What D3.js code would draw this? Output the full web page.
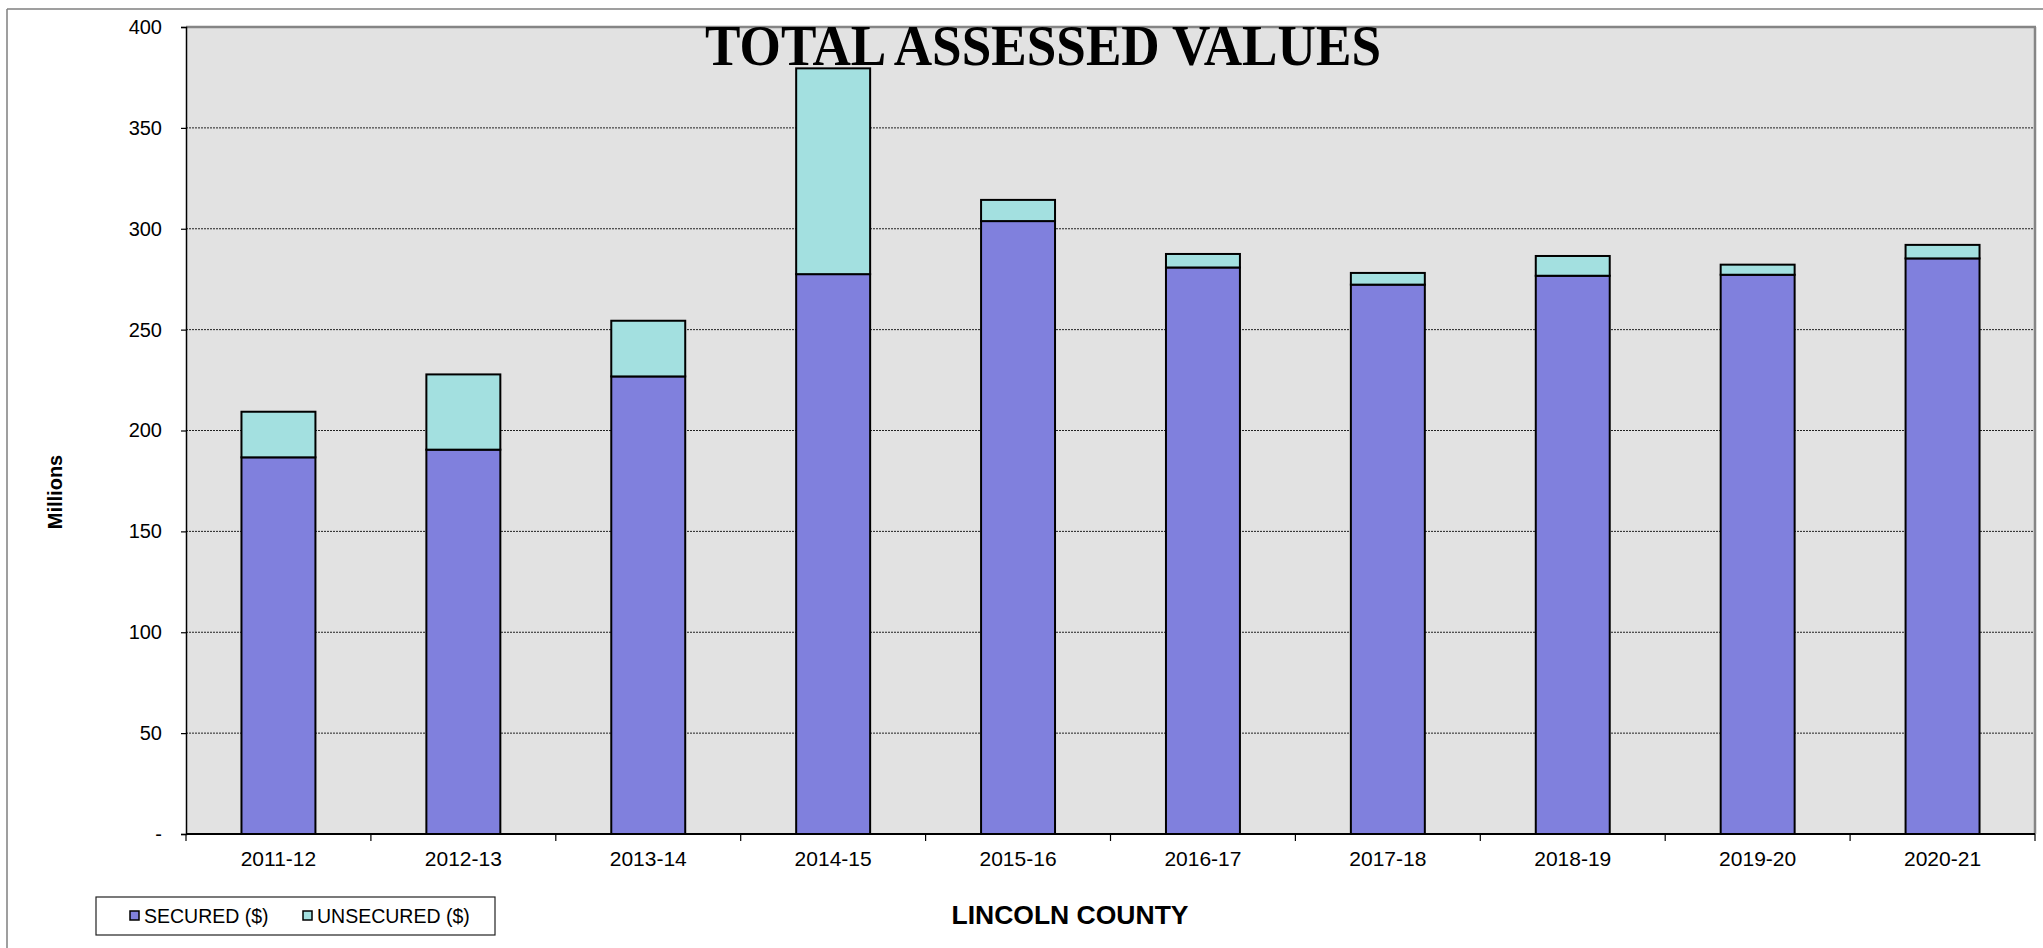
<!DOCTYPE html>
<html><head><meta charset="utf-8">
<script src="https://cdn.jsdelivr.net/npm/d3@7"></script>
<style>html,body{margin:0;padding:0;background:#fff;}svg{display:block;}</style>
</head><body>
<svg id="c" width="2043" height="948"></svg>
<script>
const categories = ["2011-12","2012-13","2013-14","2014-15","2015-16","2016-17","2017-18","2018-19","2019-20","2020-21"];
const secured = [186.7, 190.5, 226.8, 277.5, 303.8, 280.8, 272.3, 276.7, 277.2, 285.3];
const unsecured = [22.6, 37.3, 27.6, 102.0, 10.5, 6.7, 5.8, 9.8, 5.0, 6.7];
const yTicks = [0, 50, 100, 150, 200, 250, 300, 350, 400];
const seriesNames = ["SECURED ($)", "UNSECURED ($)"];
const colors = ["#8080DD", "#A3E0E0"];

const svg = d3.select("#c");
const L = 186, R = 2035, T = 27, B = 834;

// outer frame (only top and left visible)
svg.append("line").attr("x1",7).attr("x2",2043).attr("y1",9).attr("y2",9).attr("stroke","#7f7f7f").attr("stroke-width",1.5);
svg.append("line").attr("x1",7).attr("x2",7).attr("y1",9).attr("y2",948).attr("stroke","#7f7f7f").attr("stroke-width",1.5);

const x = d3.scaleBand().domain(categories).range([L, R]).paddingInner(0.6).paddingOuter(0.3);
const xb = d3.scaleBand().domain(categories).range([L, R]);
const y = d3.scaleLinear().domain([0, 400]).range([B, T]);

svg.append("rect").attr("x",L).attr("y",T).attr("width",R-L).attr("height",B-T).attr("fill","#E2E2E2");

// gridlines
svg.append("g").selectAll("line").data(yTicks.filter(d=>d>0 && d<400)).join("line")
  .attr("x1",L).attr("x2",R).attr("y1",d=>y(d)).attr("y2",d=>y(d))
  .attr("stroke","#222").attr("stroke-width",1).attr("stroke-dasharray","2,1");

// plot border top/right
svg.append("line").attr("x1",L).attr("x2",R+1).attr("y1",T).attr("y2",T).attr("stroke","#858585").attr("stroke-width",2.5);
svg.append("line").attr("x1",R).attr("x2",R).attr("y1",T).attr("y2",B).attr("stroke","#858585").attr("stroke-width",2.5);

// title
svg.append("text").attr("x",1043).attr("y",65).attr("text-anchor","middle")
  .attr("font-family","'Liberation Serif','Times New Roman',serif").attr("font-weight","bold")
  .attr("font-size",56).attr("textLength",676).attr("lengthAdjust","spacingAndGlyphs")
  .text("TOTAL ASSESSED VALUES");

// stacked bars
const stackData = categories.map((c,i)=>({cat:c, s0:secured[i], s1:unsecured[i]}));
const stack = d3.stack().keys(["s0","s1"])(stackData);
svg.append("g").selectAll("g").data(stack).join("g").attr("fill",(d,i)=>colors[i])
  .selectAll("rect").data(d=>d).join("rect")
  .attr("x",d=>x(d.data.cat)).attr("width",x.bandwidth())
  .attr("y",d=>y(d[1])).attr("height",d=>y(d[0])-y(d[1]))
  .attr("stroke","#000").attr("stroke-width",2);

// y axis
const yAxis = d3.axisLeft(y).tickValues(yTicks).tickSize(5).tickPadding(19)
  .tickFormat(d=>d===0?"-":String(d));
const gy = svg.append("g").attr("transform",`translate(${L},0)`).call(yAxis);
gy.select(".domain").attr("stroke","#000").attr("stroke-width",1.5);
gy.selectAll(".tick line").attr("stroke","#000").attr("stroke-width",1.2);
gy.selectAll("text").attr("font-family","Arial,'Liberation Sans',sans-serif").attr("font-size",20).attr("fill","#000");

// x axis
const gx = svg.append("g").attr("transform",`translate(0,${B})`);
gx.append("line").attr("x1",L).attr("x2",R).attr("stroke","#000").attr("stroke-width",1.8);
const bounds = categories.map(c=>xb(c)).concat([R]);
gx.selectAll("line.t").data(bounds).join("line").attr("class","t")
  .attr("x1",d=>d).attr("x2",d=>d).attr("y1",0).attr("y2",7).attr("stroke","#000").attr("stroke-width",1.2);
gx.selectAll("text").data(categories).join("text")
  .attr("x",d=>xb(d)+xb.bandwidth()/2).attr("y",32).attr("text-anchor","middle")
  .attr("font-family","Arial,'Liberation Sans',sans-serif").attr("font-size",21).text(d=>d);

// axis titles
svg.append("text").attr("transform","translate(62,492) rotate(-90)").attr("text-anchor","middle")
  .attr("font-family","Arial,'Liberation Sans',sans-serif").attr("font-weight","bold").attr("font-size",20).text("Millions");
svg.append("text").attr("x",1070).attr("y",924).attr("text-anchor","middle")
  .attr("font-family","Arial,'Liberation Sans',sans-serif").attr("font-weight","bold").attr("font-size",26.5).text("LINCOLN COUNTY");

// legend
const lg = svg.append("g");
lg.append("rect").attr("x",96).attr("y",897).attr("width",399).attr("height",38).attr("fill","#fff").attr("stroke","#222").attr("stroke-width",1.2);
const lx = [130, 303];
seriesNames.forEach((n,i)=>{
  lg.append("rect").attr("x",lx[i]).attr("y",911).attr("width",9).attr("height",9).attr("fill",colors[i]).attr("stroke","#000").attr("stroke-width",1.5);
  lg.append("text").attr("x",lx[i]+14).attr("y",923).attr("font-family","Arial,'Liberation Sans',sans-serif").attr("font-size",19.5).text(n);
});
</script>
</body></html>
